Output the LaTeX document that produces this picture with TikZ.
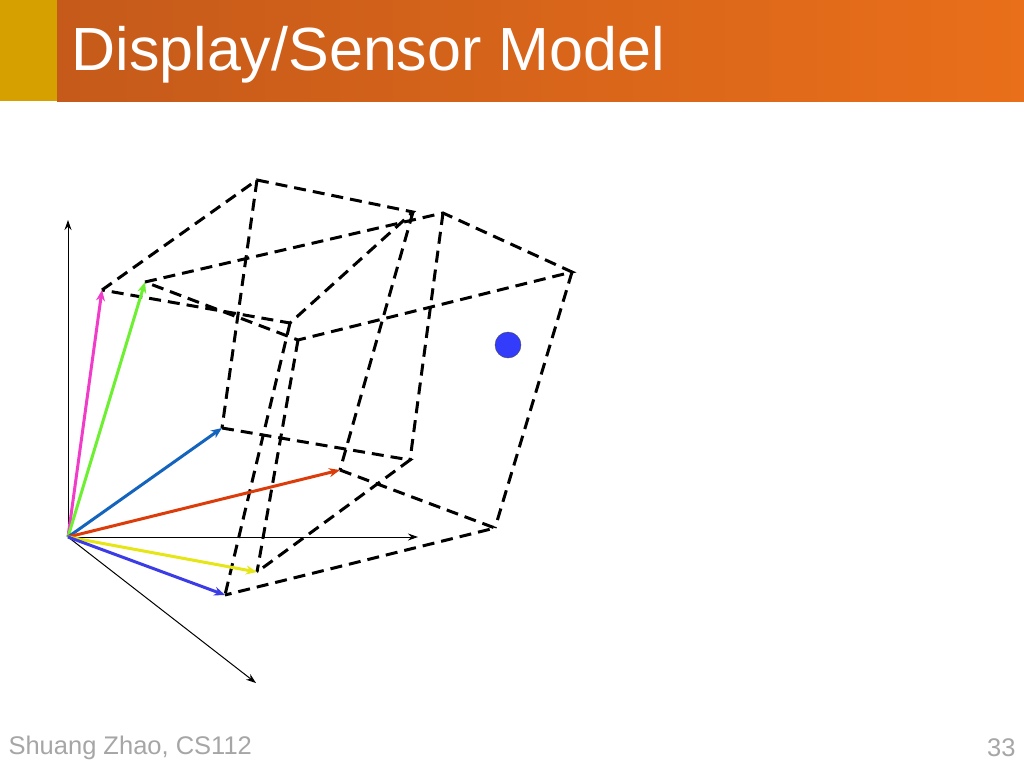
\documentclass[tikz,border=0pt]{standalone}
\usepackage{fontspec}
\setmainfont{Liberation Sans}
\usetikzlibrary{arrows.meta}
\definecolor{hdA}{RGB}{197,90,26}
\definecolor{hdB}{RGB}{233,111,26}
\definecolor{gold}{RGB}{214,160,0}
\definecolor{cPink}{RGB}{240,60,200}
\definecolor{cGreen}{RGB}{110,240,50}
\definecolor{cBlue}{RGB}{20,100,190}
\definecolor{cRed}{RGB}{220,60,10}
\definecolor{cYel}{RGB}{230,230,20}
\definecolor{cDBlue}{RGB}{60,60,230}
\definecolor{cDot}{RGB}{50,60,250}
\begin{document}
\begin{tikzpicture}[x=1pt,y=-1pt,
  dl/.style={dash pattern=on 12pt off 7pt,line width=3pt,black},
  vec/.style={line width=3pt,-{Stealth[length=11pt,width=9pt]}},
  ax/.style={line width=1pt,-{Stealth[length=10pt,width=7pt]}}]
\useasboundingbox (0,0) rectangle (1024,768);
\fill[white] (0,0) rectangle (1024,768);
\shade[left color=hdA, right color=hdB] (57,0) rectangle (1024,101);
\fill[gold] (0,0) rectangle (57,101);
\node[anchor=west,text=white,font=\fontsize{61}{70}\selectfont] (title) at (68,55) {Display/Sensor Model};
\node[anchor=west,text=gray!70,font=\fontsize{25.5}{28}\selectfont] (foot) at (5,748) {Shuang Zhao, CS112};
\node[anchor=east,text=gray!70,font=\fontsize{25.5}{28}\selectfont] (num) at (1019,748) {33};
\coordinate (O) at (68,537);
\coordinate (yA) at (68,220);
\coordinate (xA) at (418,537);
\coordinate (zA) at (256,683);
\coordinate (p1) at (102,290);
\coordinate (p2) at (257,180);
\coordinate (p3) at (413,212);
\coordinate (p4) at (290,323);
\coordinate (g1) at (145,282);
\coordinate (g2) at (443,213);
\coordinate (g3) at (572,272);
\coordinate (g4) at (298,340);
\coordinate (b1) at (222,428);
\coordinate (b2) at (340,470);
\coordinate (b3) at (225,595);
\coordinate (c1) at (410,460);
\coordinate (c2) at (495,528);
\coordinate (c3) at (257,572);
\draw[dl] (p1)--(p2)--(p3)--(p4)--cycle;
\draw[dl] (g1)--(g2)--(g3)--(g4)--cycle;
\draw[dl] (p2)--(b1) (p3)--(b2) (p4)--(b3) (g2)--(c1) (g3)--(c2) (g4)--(c3);
\draw[dl] (b1)--(c1)--(c3) (b2)--(c2)--(b3);
\draw[ax] (O)--(yA);
\draw[ax] (O)--(xA);
\draw[ax] (O)--(zA);
\draw[vec,cPink] (O)--(p1);
\draw[vec,cGreen] (O)--(g1);
\draw[vec,cBlue] (O)--(b1);
\draw[vec,cRed] (O)--(b2);
\draw[vec,cYel] (O)--(c3);
\draw[vec,cDBlue] (O)--(b3);
\node[circle,draw=black!70,fill=cDot,minimum size=26pt,inner sep=0pt] (dot) at (508,345) {};
\end{tikzpicture}
\end{document}
